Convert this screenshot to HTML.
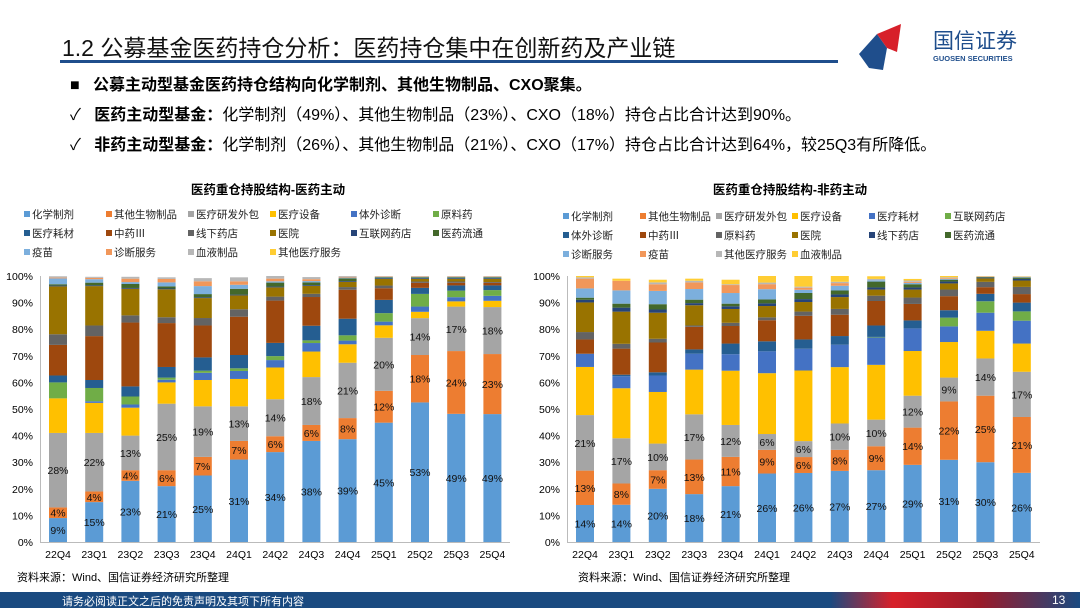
<!DOCTYPE html>
<html><head><meta charset="utf-8">
<style>
body{margin:0;width:1080px;height:608px;overflow:hidden;background:#fff;font-family:"Liberation Sans","Noto Sans CJK SC",sans-serif;position:relative}
.abs{position:absolute;white-space:nowrap}
</style></head><body>
<div class="abs" style="left:62px;top:29px;font-size:23px;color:#111">1.2 公募基金医药持仓分析：医药持仓集中在创新药及产业链</div>
<div class="abs" style="left:60px;top:60px;width:778px;height:3px;background:#1f4e8c"></div>
<svg class="abs" style="left:855px;top:18px" width="190" height="55">
<polygon points="4,36 22,16 32,30 28,52 14,50" fill="#1f4e8c"/><polygon points="22,16 46,6 42,34 32,30" fill="#d7202a"/>
<text x="78" y="30" font-size="21" fill="#1f4e8c" font-family="Liberation Sans,Noto Sans CJK SC,sans-serif">国信证券</text>
<text x="78" y="43" font-size="7.5" fill="#1f4e8c" font-weight="bold" font-family="Liberation Sans,sans-serif">GUOSEN SECURITIES</text></svg>
<div class="abs" style="left:70px;top:71px;font-size:16px;font-weight:bold">■&nbsp;&nbsp;&nbsp;公募主动型基金医药持仓结构向化学制剂、其他生物制品、CXO聚集。</div>
<div class="abs" style="left:70px;top:101px;font-size:16px">✓&nbsp;&nbsp;&nbsp;<b>医药主动型基金：</b>化学制剂（49%）、其他生物制品（23%）、CXO（18%）持仓占比合计达到90%。</div>
<div class="abs" style="left:70px;top:131px;font-size:16px">✓&nbsp;&nbsp;&nbsp;<b>非药主动型基金：</b>化学制剂（26%）、其他生物制品（21%）、CXO（17%）持仓占比合计达到64%，较25Q3有所降低。</div>
<svg id="chart" class="abs" style="left:0;top:0" width="1080" height="608"></svg>
<div class="abs" style="left:17px;top:569px;font-size:11px">资料来源：Wind、国信证券经济研究所整理</div>
<div class="abs" style="left:578px;top:569px;font-size:11px">资料来源：Wind、国信证券经济研究所整理</div>
<div class="abs" style="left:0;top:592px;width:1080px;height:16px;background:#1a4a80"></div>
<div class="abs" style="left:830px;top:592px;width:250px;height:16px;background:linear-gradient(90deg,#1a4a80,#d7202a 25%,#9a1b2a 60%,#1a4a80)"></div>
<div class="abs" style="left:62px;top:593px;font-size:11px;color:#fff">请务必阅读正文之后的免责声明及其项下所有内容</div>
<div class="abs" style="left:1052px;top:593px;font-size:12px;color:#fff">13</div>
<script>
const categories=["22Q4","23Q1","23Q2","23Q3","23Q4","24Q1","24Q2","24Q3","24Q4","25Q1","25Q2","25Q3","25Q4"];
const colors=["#5B9BD5","#ED7D31","#A5A5A5","#FFC000","#4472C4","#70AD47","#255E91","#9E480E","#636363","#997300","#264478","#43682B","#7CAFDD","#F1975A","#B7B7B7","#FFCD33"];
const yTicks=[0,10,20,30,40,50,60,70,80,90,100];
const namesA=["化学制剂","其他生物制品","医疗研发外包","医疗设备","体外诊断","原料药","医疗耗材","中药Ⅲ","线下药店","医院","互联网药店","医药流通","疫苗","诊断服务","血液制品","其他医疗服务"];
const A_chem=[9,15,23,21,25,31,34,38,39,45,53,49,49];
const A_bio=[4,4,4,6,7,7,6,6,8,12,18,24,23];
const A_cro=[28,22,13,25,19,13,14,18,21,20,14,17,18];
const A_equip=[13,11.3,10.5,8,9.9,10.3,12,9.6,7,4.7,2.4,2,2.4];
const A_ivd=[0,0.6,1.2,1,2.7,3,2.8,3.2,1.4,1.4,2,1.6,1.9];
const A_api=[6,5,3,0.8,0.8,1,1.5,1,2,3.2,4.8,2.5,2.2];
const A_cons=[2.6,3,3.8,4,5,5,5,5.5,6.3,5,2.3,2,1.8];
const A_tcm=[11.5,16.5,24,16.5,12,14.4,16,10.8,11,4.4,1.9,1,1];
const A_store=[4,4,2.7,2.2,2.8,2.8,1.5,1.2,1,1,0.5,0.5,0.3];
const A_hosp=[18,14.8,10,10.5,7.5,5.2,3.5,3,2,2.5,1,1,1.2];
const A_online=[0.3,0.3,0.3,0.3,0.3,0.3,0.3,0.3,0.3,0.3,0.3,0.3,0.3];
const A_dist=[0.5,1,1.5,0.8,1.2,2.2,1.5,1,1,0.3,0.3,0.3,0.3];
const A_vac=[2.2,1.3,0.7,1.5,3,1.5,0.5,0.5,0.3,0.2,0.2,0.2,0.2];
const A_diag=[0.3,0.5,1.3,1.3,1.8,1.3,1,0.7,0.3,0.2,0.2,0.2,0.2];
const A_blood=[0.5,0.4,0.7,0.6,1.2,1.5,1,0.8,0.3,0.1,0.1,0.1,0.1];
const A_other=[0,0,0,0,0,0,0,0,0,0,0,0,0];
const namesB=["化学制剂","其他生物制品","医疗研发外包","医疗设备","医疗耗材","互联网药店","体外诊断","中药Ⅲ","原料药","医院","线下药店","医药流通","诊断服务","疫苗","其他医疗服务","血液制品"];
const B_chem=[14,14,20,18,21,26,26,27,27,29,31,30,26];
const B_bio=[13,8,7,13,11,9,6,8,9,14,22,25,21];
const B_cro=[21,17,10,17,12,6,6,10,10,12,9,14,17];
const B_equip=[18.2,18.8,19.4,16.8,20.4,23.1,26.6,21.4,20.6,16.8,13.4,10.4,10.6];
const B_cons=[5,4.5,6.2,6,6.2,8.3,8.2,8.5,10.3,8.5,5.9,6.8,8.6];
const B_online=[0,0,0,0,0,0,0,0,0.2,0,3.3,4.3,3.5];
const B_ivd=[0,0.6,1.2,1.6,4,3.8,3.5,3.3,4.3,3,2.8,2.8,3.3];
const B_tcm=[5.4,9.8,11.2,8.5,6.6,8,8.9,8.1,9.2,6.2,5.3,2.5,3.2];
const B_api=[2.8,1.8,1.4,0.5,1.2,1.1,1.6,2.2,2,2.4,2.5,2,2.7];
const B_hosp=[11.2,12.1,9.8,7.6,5.2,4.3,3.6,4.5,2.3,3,2.3,1.3,2.4];
const B_store=[1,1.5,1.2,0.8,1,1,1.1,1,0.8,0.8,0.7,0.3,0.6];
const B_dist=[0.8,1.5,2,1.3,1,1.5,2.3,1.5,2.2,1.2,0.7,0.2,0.5];
const B_diag=[3.5,5,5,4,4,3.9,1.2,1.8,0.5,0.5,0.3,0.1,0.2];
const B_vac=[3.7,3.6,2.5,2.5,3,1.9,0.8,1,0,0.4,0.3,0.1,0.1];
const B_other=[0.5,0,0.7,0.6,0.3,0.6,0.4,0.5,0.5,0.5,0.3,0.1,0.1];
const B_blood=[0.5,0.8,1,0.8,1.7,2.5,4,2.2,1,0.6,0.5,0.1,0.1];
const seriesA=[A_chem,A_bio,A_cro,A_equip,A_ivd,A_api,A_cons,A_tcm,A_store,A_hosp,A_online,A_dist,A_vac,A_diag,A_blood,A_other];
const seriesB=[B_chem,B_bio,B_cro,B_equip,B_cons,B_online,B_ivd,B_tcm,B_api,B_hosp,B_store,B_dist,B_diag,B_vac,B_other,B_blood];
const svg=document.getElementById('chart');
const NS='http://www.w3.org/2000/svg';
function mk(t,a){const e=document.createElementNS(NS,t);for(const k in a)e.setAttribute(k,a[k]);svg.appendChild(e);return e;}
function draw(cfg){
  const y0=542,y1=276;
  const yS=v=>y0-(v/100)*(y0-y1);
  const xS=i=>cfg.x0+i*cfg.step;
  const t=mk('text',{x:cfg.titleX,y:194,'font-size':12.5,'font-weight':'bold','text-anchor':'middle'});t.textContent=cfg.title;
  
  
  cfg.names.forEach((n,k)=>{
    const lx=cfg.legX[k%6],ly=cfg.legY+Math.floor(k/6)*19;
    const r=mk('rect',{x:lx,y:ly-7,width:6,height:6,fill:colors[k]});
    
    
    const tx=mk('text',{x:lx+8,y:ly,'font-size':10.5,fill:'#222'});tx.textContent=n;
    
    
  });
  yTicks.forEach(v=>{
    const tx=mk('text',{x:cfg.yLabX,y:yS(v)+4,'font-size':10.5,'text-anchor':'end'});tx.textContent=v+'%';
    
    
  });
  const ax=mk('line',{x1:cfg.axL,x2:cfg.axR,y1:y0+0.5,y2:y0+0.5,stroke:'#bbb'});
  
  
  const ay=mk('line',{x1:cfg.axL+0.5,x2:cfg.axL+0.5,y1:y1,y2:y0,stroke:'#bbb'});
  
  
  categories.forEach((c,i)=>{
    let tot=0;cfg.series.forEach(s=>tot+=s[i]);
    const sc=Math.max(tot,100)/100;
    let cum=0;
    cfg.series.forEach((s,k)=>{
      const v=s[i]/sc;if(v<=0)return;
      const r=mk('rect',{x:xS(i)-9,y:yS(cum+v),width:18,height:Math.max(0,yS(cum)-yS(cum+v)),fill:colors[k]});
      
      
      if(k<3){
        const tx=mk('text',{x:xS(i),y:yS(cum+v/2)+4,'font-size':10.5,'text-anchor':'middle',fill:'#111'});
        tx.textContent=Math.round(s[i])+'%';
        
        
      }
      cum+=v;
    });
    const tx=mk('text',{x:xS(i),y:558,'font-size':10.5,'text-anchor':'middle'});tx.textContent=c;
    
    
  });
}
draw({title:'医药重仓持股结构-医药主动',titleX:268,names:namesA,series:seriesA,legX:[24,106,188,270,351,433],legY:218,yLabX:33,axL:40,axR:510,x0:58,step:36.2});
draw({title:'医药重仓持股结构-非药主动',titleX:790,names:namesB,series:seriesB,legX:[563,640,716,792,869,945],legY:220,yLabX:560,axL:567,axR:1040,x0:585,step:36.4});
</script>
</body></html>
